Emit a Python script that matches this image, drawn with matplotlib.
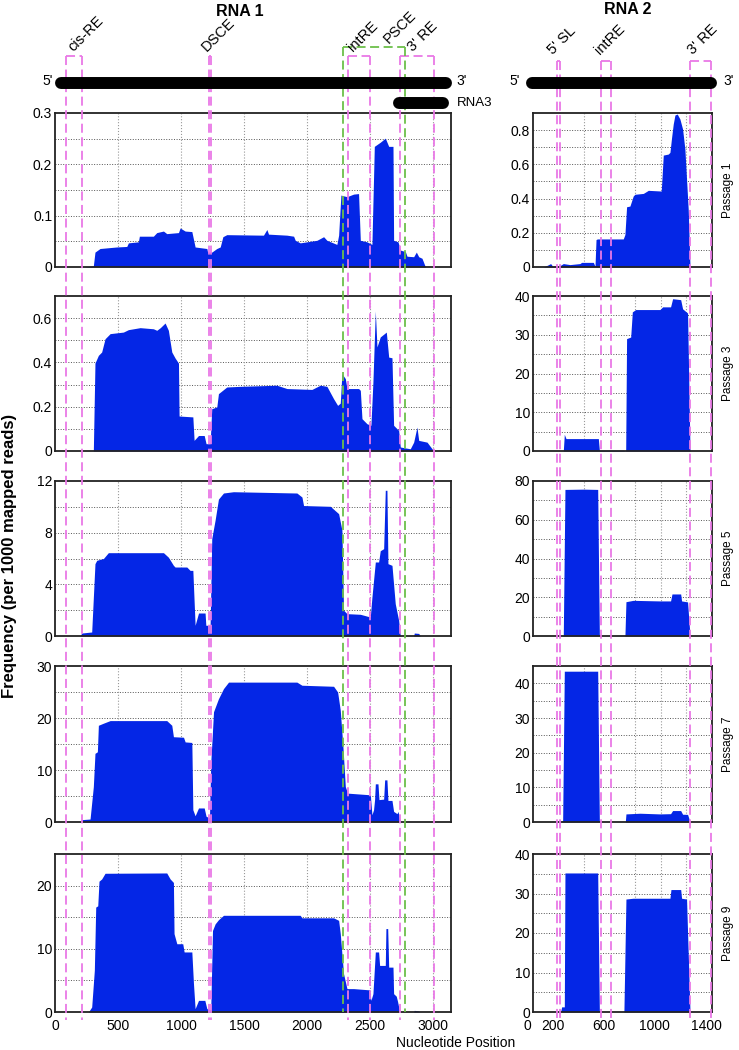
import matplotlib
matplotlib.use("Agg")
import numpy as np
import matplotlib.pyplot as plt
from matplotlib.lines import Line2D
from matplotlib.ticker import MultipleLocator, FuncFormatter
from matplotlib.transforms import blended_transform_factory, offset_copy, ScaledTranslation

plt.rcParams['font.family'] = ['Liberation Sans', 'DejaVu Sans']

passages = ["Passage 1", "Passage 3", "Passage 5", "Passage 7", "Passage 9"]

# RNA 1 coverage (nucleotide position, frequency per 1000 mapped reads)
rna1_p1_x = [0, 225, 304, 317, 357, 489, 569, 582, 661, 669, 780, 807, 860, 886, 979, 992, 1032, 1085, 1111, 1204,
             1210, 1243, 1283, 1310, 1331, 1362, 1653, 1680, 1693, 1839, 1892, 1905, 1944, 2077, 2130, 2156, 2235,
             2249, 2267, 2315, 2368, 2407, 2421, 2474, 2513, 2532, 2579, 2619, 2646, 2680, 2685, 2720, 2738, 2778,
             2791, 2844, 2865, 2884, 2910, 2937, 3140]
rna1_p1_y = [0, 0, 0.002, 0.029, 0.036, 0.039, 0.040, 0.047, 0.049, 0.060, 0.060, 0.067, 0.070, 0.065, 0.067, 0.076,
             0.070, 0.069, 0.039, 0.036, 0.029, 0.029, 0.036, 0.039, 0.059, 0.063, 0.062, 0.073, 0.064, 0.062, 0.060,
             0.052, 0.047, 0.052, 0.059, 0.052, 0.044, 0.062, 0.140, 0.137, 0.142, 0.143, 0.052, 0.049, 0.044, 0.235,
             0.243, 0.251, 0.235, 0.235, 0.052, 0.049, 0.033, 0.030, 0.021, 0.020, 0.029, 0.020, 0.017, 0, 0]

rna1_p3_x = [0, 304, 317, 344, 370, 397, 437, 542, 582, 675, 780, 807, 835, 873, 899, 926, 952, 979, 984, 1093,
             1103, 1138, 1183, 1198, 1230, 1243, 1283, 1296, 1362, 1468, 1759, 1839, 2037, 2103, 2156, 2209, 2241,
             2262, 2275, 2302, 2315, 2407, 2421, 2434, 2474, 2505, 2521, 2540, 2553, 2579, 2627, 2646, 2672, 2685,
             2725, 2738, 2817, 2844, 2870, 2884, 2950, 3003, 3140]
rna1_p3_y = [0, 0, 0.397, 0.432, 0.447, 0.507, 0.530, 0.537, 0.548, 0.557, 0.552, 0.545, 0.557, 0.578, 0.545, 0.447,
             0.420, 0.397, 0.158, 0.154, 0.048, 0.070, 0.070, 0.033, 0.033, 0.191, 0.199, 0.259, 0.289, 0.292, 0.297,
             0.282, 0.278, 0.297, 0.292, 0.236, 0.206, 0.216, 0.349, 0.327, 0.282, 0.282, 0.274, 0.146, 0.123, 0.116,
             0.312, 0.632, 0.470, 0.515, 0.537, 0.424, 0.421, 0.116, 0.093, 0.018, 0.010, 0.040, 0.108, 0.048, 0.040,
             0, 0]

rna1_p5_x = [0, 198, 212, 291, 317, 331, 384, 423, 860, 899, 939, 952, 1045, 1071, 1093, 1111, 1138, 1190, 1196,
             1230, 1243, 1270, 1296, 1336, 1415, 1918, 1958, 1971, 2183, 2249, 2275, 2288, 2315, 2421, 2500, 2513,
             2540, 2566, 2579, 2606, 2619, 2632, 2640, 2672, 2698, 2725, 2738, 2844, 2849, 2884, 2897, 3140]
rna1_p5_y = [0, 0, 0.23, 0.31, 5.6, 5.86, 6.0, 6.45, 6.45, 6.1, 5.47, 5.34, 5.34, 5.08, 5.08, 0.83, 1.78, 1.78, 0.83,
             0.83, 7.54, 9.0, 10.6, 11.07, 11.17, 11.07, 10.76, 10.1, 10.04, 9.47, 8.2, 2.0, 1.73, 1.68, 1.47, 3.0,
             5.73, 5.73, 6.6, 6.76, 11.28, 11.28, 5.6, 5.47, 2.5, 1.2, 0, 0, 0.23, 0.2, 0, 0]

rna1_p7_x = [0, 198, 212, 278, 304, 317, 336, 344, 384, 437, 886, 926, 939, 1019, 1032, 1085, 1093, 1111, 1138, 1183,
             1198, 1225, 1235, 1257, 1296, 1336, 1376, 1918, 1958, 2209, 2241, 2262, 2283, 2302, 2320, 2500, 2513,
             2526, 2534, 2540, 2561, 2569, 2606, 2614, 2632, 2640, 2672, 2685, 2712, 2720, 2738, 3140]
rna1_p7_y = [0, 0, 0.45, 0.57, 6.8, 13.2, 13.5, 18.6, 19.0, 19.5, 19.5, 18.6, 16.4, 16.3, 15.4, 15.3, 2.36, 1.2, 2.7,
             2.7, 1.1, 0.8, 11.3, 21.2, 23.7, 25.65, 26.9, 26.9, 26.3, 26.1, 25.0, 21.5, 14.5, 6.8, 5.55, 5.23, 1.4,
             2.36, 4.27, 7.34, 7.34, 4.3, 4.4, 8.1, 8.1, 4.15, 4.15, 2.04, 1.6, 2.04, 0, 0]

rna1_p9_x = [0, 265, 291, 312, 323, 339, 349, 370, 397, 886, 913, 939, 944, 966, 1013, 1024, 1085, 1098, 1111, 1138,
             1188, 1204, 1235, 1249, 1270, 1296, 1336, 1944, 1958, 2209, 2249, 2262, 2275, 2288, 2315, 2368, 2495,
             2505, 2521, 2540, 2566, 2574, 2619, 2624, 2638, 2646, 2680, 2685, 2706, 2717, 2733, 2844, 2849, 2884,
             2892, 3140]
rna1_p9_y = [0, 0, 0.79, 6.6, 16.6, 16.8, 20.7, 21.05, 21.95, 22.0, 21.05, 20.5, 12.4, 10.8, 10.8, 9.5, 9.5, 4.5,
             0.53, 1.84, 1.84, 0.53, 0.37, 12.9, 13.95, 14.6, 15.3, 15.3, 14.9, 14.9, 14.5, 12.4, 9.2, 6.05, 3.7, 3.7,
             3.5, 1.84, 2.9, 9.5, 9.5, 7.37, 7.37, 13.2, 13.2, 7.1, 7.1, 2.9, 2.5, 1.6, 0, 0, 0.26, 0.16, 0, 0]

# RNA 2 coverage
rna2_p1_x = [0, 81, 112, 138, 154, 211, 237, 289, 367, 380, 472, 485, 493, 503, 706, 719, 732, 758, 784, 797, 863,
             902, 1003, 1019, 1058, 1071, 1084, 1097, 1110, 1128, 1149, 1170, 1188, 1201, 1214, 1228, 1400]
rna2_p1_y = [0, 0, 0.01, 0.02, 0.004, 0.008, 0.02, 0.014, 0.02, 0.027, 0.027, 0.004, 0.16, 0.164, 0.164, 0.19, 0.352,
             0.356, 0.415, 0.425, 0.43, 0.448, 0.444, 0.654, 0.66, 0.67, 0.757, 0.836, 0.888, 0.894, 0.865, 0.806,
             0.689, 0.513, 0.337, 0, 0]

rna2_p3_x = [0, 237, 245, 258, 511, 519, 706, 725, 732, 764, 777, 803, 993, 1014, 1076, 1092, 1155, 1170, 1209, 1228,
             1400]
rna2_p3_y = [0, 0, 4.3, 3.2, 3.2, 0.17, 0.17, 0, 29.0, 29.4, 35.9, 36.5, 36.5, 37.2, 37.2, 39.3, 39.05, 36.7, 35.6,
             0, 0]

rna2_p5_x = [0, 224, 237, 250, 394, 506, 519, 719, 727, 784, 993, 1076, 1087, 1155, 1162, 1209, 1228, 1400]
rna2_p5_y = [0, 0, 0.3, 75.65, 75.8, 75.65, 0, 0, 17.7, 18.4, 18.1, 18.1, 21.7, 21.7, 18.1, 17.6, 0, 0]

rna2_p7_x = [0, 219, 232, 245, 506, 519, 722, 727, 837, 993, 1076, 1092, 1155, 1170, 1209, 1228, 1400]
rna2_p7_y = [0, 0, 0.5, 43.5, 43.5, 0, 0, 2.33, 2.53, 2.33, 2.4, 3.3, 3.3, 2.24, 2.2, 0, 0]

rna2_p9_x = [0, 216, 224, 245, 250, 506, 519, 711, 727, 784, 1071, 1079, 1155, 1162, 1201, 1228, 1400]
rna2_p9_y = [0, 0, 1.3, 1.3, 35.2, 35.2, 0, 0, 28.6, 28.8, 28.8, 31.0, 31.0, 28.8, 28.6, 0, 0]

rna1_x = [rna1_p1_x, rna1_p3_x, rna1_p5_x, rna1_p7_x, rna1_p9_x]
rna1_y = [rna1_p1_y, rna1_p3_y, rna1_p5_y, rna1_p7_y, rna1_p9_y]
rna2_x = [rna2_p1_x, rna2_p3_x, rna2_p5_x, rna2_p7_x, rna2_p9_x]
rna2_y = [rna2_p1_y, rna2_p3_y, rna2_p5_y, rna2_p7_y, rna2_p9_y]

rna1_ymax = [0.3, 0.7, 12, 30, 25]
rna1_ystep = [0.1, 0.2, 4, 10, 10]
rna1_ygrid = [0.05, 0.1, 2, 5, 5]
rna2_ymax = [0.9, 40, 80, 45, 40]
rna2_ystep = [0.2, 10, 20, 10, 10]
rna2_ygrid = [0.1, 5, 10, 5, 5]

rna1_xticks = [0, 500, 1000, 1500, 2000, 2500, 3000]
rna1_xgrid = [500, 1000, 1500, 2000, 2500, 3000]
rna2_xticks = [0, 200, 600, 1000, 1400]
rna2_xgrid = [400, 800, 1000, 1200]

# cis-acting elements (name, start, end)
rna1_regions = [("cis-RE", 85, 217), ("DSCE", 1222, 1238), ("intRE", 2323, 2500), ("3' RE", 2733, 3008)]
rna1_psce = ("PSCE", 2283, 2778)
rna2_regions = [("5' SL", 185, 211), ("intRE", 532, 610), ("3' RE", 1228, 1389)]

BLUE = '#0426e6'
PINK = '#e978e6'
GREEN = '#6cbf4a'

W, H = 739, 1050
fig = plt.figure(figsize=(W / 100, H / 100), dpi=100)


def fy(px):
    return 1 - px / H


row_top = [113, 296, 481, 666, 854]
row_bot = [267, 451, 636, 822, 1012]


def style_axes(ax, xmax, ymax, ystep, ygrid, xgrid):
    ax.set_xlim(0, xmax)
    ax.set_ylim(0, ymax)
    ax.yaxis.set_major_locator(MultipleLocator(ystep))
    ax.yaxis.set_major_formatter(FuncFormatter(lambda v, p: f"{v:g}"))
    for v in np.arange(ygrid, ymax - 1e-9, ygrid):
        ax.axhline(v, color='#555555', ls=':', lw=0.7, zorder=1)
    for g in xgrid:
        ax.axvline(g, color='#999999', ls=':', lw=0.8, zorder=1)
    ax.tick_params(length=0, labelsize=10, pad=2)
    ax.tick_params(axis='x', pad=5)
    for s in ax.spines.values():
        s.set_linewidth(1.3)
        s.set_color('#222222')
        s.set_zorder(4)


axes_l, axes_r = [], []
for i in range(5):
    b = fy(row_bot[i])
    h = (row_bot[i] - row_top[i]) / H
    axl = fig.add_axes([55 / W, b, 396 / W, h])
    axr = fig.add_axes([533 / W, b, 179 / W, h])

    axl.fill_between(rna1_x[i], rna1_y[i], color=BLUE, lw=0, zorder=2)
    axr.fill_between(rna2_x[i], rna2_y[i], color=BLUE, lw=0, zorder=2)

    style_axes(axl, 3140, rna1_ymax[i], rna1_ystep[i], rna1_ygrid[i], rna1_xgrid)
    style_axes(axr, 1400, rna2_ymax[i], rna2_ystep[i], rna2_ygrid[i], rna2_xgrid)
    axl.set_xticks(rna1_xticks)
    axr.set_xticks(rna2_xticks)
    if i < 4:
        axl.tick_params(labelbottom=False)
        axr.tick_params(labelbottom=False)

    axr.text(1.09, 0.5, passages[i], transform=axr.transAxes, rotation=90,
             ha='center', va='center', fontsize=8.5)
    axes_l.append(axl)
    axes_r.append(axr)

# the RNA 2 bottom labels sit slightly left of their ticks in the original
for lbl in axes_r[-1].get_xticklabels():
    lbl.set_transform(lbl.get_transform() + ScaledTranslation(-0.06, 0, fig.dpi_scale_trans))

trL = blended_transform_factory(axes_l[0].transData, fig.transFigure)
trR = blended_transform_factory(axes_r[0].transData, fig.transFigure)

dash = (0, (5, 2.5))


def draw_box(tr, x0, x1, top, bot, color):
    for x in (x0, x1):
        fig.add_artist(Line2D([x, x], [fy(top), fy(bot)], transform=tr, color=color, lw=1.3, ls=dash))
    fig.add_artist(Line2D([x0, x1], [fy(top), fy(top)], transform=tr, color=color, lw=1.3, ls=dash))


def region_label(tr, x, y, text, dx):
    t = offset_copy(tr, fig=fig, x=dx, y=0, units='dots')
    fig.text(x, fy(y), text, transform=t, rotation=45, rotation_mode='anchor',
             ha='left', va='baseline', fontsize=10.5)


label_dx1 = {"cis-RE": -1, "DSCE": -3, "intRE": -6, "3' RE": -4}
for name, a, b in rna1_regions:
    draw_box(trL, a, b, 56, 1020, PINK)
    region_label(trL, (a + b) / 2, 52, name, label_dx1[name])

name, a, b = rna1_psce
draw_box(trL, a, b, 47, 1012, GREEN)
region_label(trL, b, 44, name, -17)

label_dx2 = {"5' SL": -5, "intRE": -6, "3' RE": -7}
for name, a, b in rna2_regions:
    draw_box(trR, a, b, 61, 1020, PINK)
    region_label(trR, (a + b) / 2, 55, name, label_dx2[name])

# genome cartoons
fig.add_artist(Line2D([48, 3100], [fy(83), fy(83)], transform=trL, color='black', lw=8.6,
                      solid_capstyle='round'))
fig.add_artist(Line2D([2728, 3080], [fy(103), fy(103)], transform=trL, color='black', lw=8.6,
                      solid_capstyle='round'))
fig.add_artist(Line2D([-8, 1392], [fy(83), fy(83)], transform=trR, color='black', lw=8.6,
                      solid_capstyle='round'))

fig.text(53 / W, fy(81), "5'", ha='right', va='center', fontsize=10)
fig.text(456 / W, fy(81), "3'", ha='left', va='center', fontsize=10)
fig.text(457 / W, fy(103), "RNA3", ha='left', va='center', fontsize=9.5)
fig.text(520 / W, fy(81), "5'", ha='right', va='center', fontsize=10)
fig.text(723 / W, fy(81), "3'", ha='left', va='center', fontsize=10)

fig.text(240 / W, fy(11), "RNA 1", ha='center', va='center', fontsize=11.5, weight='bold')
fig.text(628 / W, fy(10), "RNA 2", ha='center', va='center', fontsize=11.5, weight='bold')

fig.text(10 / W, fy(556), "Frequency (per 1000 mapped reads)", rotation=90, ha='center', va='center',
         fontsize=12, weight='bold')
fig.text(456 / W, fy(1043), "Nucleotide Position", ha='center', va='center', fontsize=10)

fig.savefig("out.png", dpi=100)
